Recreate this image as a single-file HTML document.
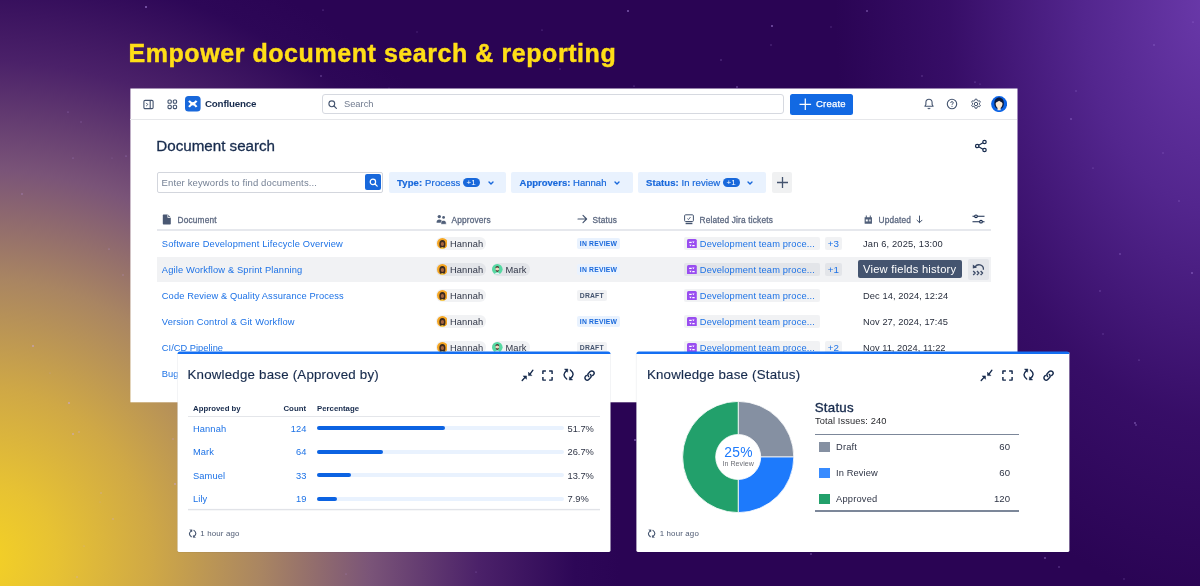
<!DOCTYPE html>
<html lang="en"><head><meta charset="utf-8"><title>Empower document search &amp; reporting</title>
<style>
html,body{margin:0;padding:0}
body{width:1200px;height:586px;overflow:hidden;position:relative;font-family:"Liberation Sans",sans-serif;
background:
 radial-gradient(ellipse 380px 600px at 1215px 0px, rgba(112,62,178,.92) 0%, rgba(100,52,166,.7) 35%, rgba(80,32,140,.34) 70%, rgba(60,20,120,0) 100%),
 radial-gradient(ellipse 640px 640px at -20px 560px, #f5d224 0%, #e7c233 12%, #cfa846 27%, #a98562 44%, #7a5478 61%, #4b2169 78%, #2d0757 93%, #2a0454 100%),
 #2a0454;}
.t{position:absolute;white-space:nowrap;height:20px;line-height:20px}
.b{position:absolute;display:block}
b{font-weight:700}
</style></head>
<body>
<svg class="b" style="left:0px;top:0px;" width="1200" height="586" viewBox="0 0 1200 586"><circle cx="389" cy="88" r="0.6" fill="#c9a7ff" opacity="0.28"/><circle cx="643" cy="214" r="0.6" fill="#c9a7ff" opacity="0.57"/><circle cx="258" cy="50" r="1" fill="#c9a7ff" opacity="0.27"/><circle cx="109" cy="249" r="0.6" fill="#c9a7ff" opacity="0.58"/><circle cx="757" cy="342" r="0.6" fill="#c9a7ff" opacity="0.45"/><circle cx="476" cy="572" r="0.6" fill="#c9a7ff" opacity="0.44"/><circle cx="160" cy="246" r="0.6" fill="#c9a7ff" opacity="0.45"/><circle cx="672" cy="400" r="0.6" fill="#c9a7ff" opacity="0.45"/><circle cx="767" cy="218" r="0.6" fill="#c9a7ff" opacity="0.45"/><circle cx="743" cy="291" r="1" fill="#c9a7ff" opacity="0.52"/><circle cx="559" cy="541" r="0.8" fill="#c9a7ff" opacity="0.35"/><circle cx="953" cy="410" r="0.7" fill="#c9a7ff" opacity="0.28"/><circle cx="360" cy="290" r="0.8" fill="#c9a7ff" opacity="0.51"/><circle cx="346" cy="574" r="0.6" fill="#c9a7ff" opacity="0.43"/><circle cx="198" cy="200" r="1" fill="#c9a7ff" opacity="0.40"/><circle cx="1154" cy="45" r="0.8" fill="#c9a7ff" opacity="0.37"/><circle cx="420" cy="291" r="1" fill="#c9a7ff" opacity="0.27"/><circle cx="112" cy="158" r="0.6" fill="#c9a7ff" opacity="0.27"/><circle cx="842" cy="379" r="1" fill="#c9a7ff" opacity="0.35"/><circle cx="463" cy="392" r="0.6" fill="#c9a7ff" opacity="0.58"/><circle cx="427" cy="358" r="1" fill="#c9a7ff" opacity="0.27"/><circle cx="922" cy="76" r="0.7" fill="#c9a7ff" opacity="0.39"/><circle cx="1100" cy="291" r="0.7" fill="#c9a7ff" opacity="0.41"/><circle cx="659" cy="518" r="1" fill="#c9a7ff" opacity="0.55"/><circle cx="334" cy="243" r="0.8" fill="#c9a7ff" opacity="0.49"/><circle cx="457" cy="135" r="0.6" fill="#c9a7ff" opacity="0.31"/><circle cx="278" cy="137" r="1" fill="#c9a7ff" opacity="0.54"/><circle cx="219" cy="165" r="0.7" fill="#c9a7ff" opacity="0.40"/><circle cx="443" cy="332" r="0.7" fill="#c9a7ff" opacity="0.49"/><circle cx="619" cy="362" r="0.6" fill="#c9a7ff" opacity="0.41"/><circle cx="1045" cy="558" r="1" fill="#c9a7ff" opacity="0.39"/><circle cx="473" cy="282" r="1" fill="#c9a7ff" opacity="0.27"/><circle cx="81" cy="122" r="0.7" fill="#c9a7ff" opacity="0.29"/><circle cx="721" cy="60" r="0.7" fill="#c9a7ff" opacity="0.44"/><circle cx="1139" cy="360" r="0.6" fill="#c9a7ff" opacity="0.56"/><circle cx="737" cy="87" r="0.8" fill="#c9a7ff" opacity="0.58"/><circle cx="723" cy="278" r="0.6" fill="#c9a7ff" opacity="0.55"/><circle cx="1192" cy="273" r="1" fill="#c9a7ff" opacity="0.36"/><circle cx="173" cy="439" r="0.8" fill="#c9a7ff" opacity="0.42"/><circle cx="830" cy="303" r="0.7" fill="#c9a7ff" opacity="0.58"/><circle cx="634" cy="86" r="0.6" fill="#c9a7ff" opacity="0.52"/><circle cx="358" cy="377" r="0.6" fill="#c9a7ff" opacity="0.49"/><circle cx="313" cy="215" r="0.7" fill="#c9a7ff" opacity="0.37"/><circle cx="267" cy="317" r="0.8" fill="#c9a7ff" opacity="0.47"/><circle cx="736" cy="462" r="0.7" fill="#c9a7ff" opacity="0.53"/><circle cx="982" cy="434" r="0.7" fill="#c9a7ff" opacity="0.32"/><circle cx="591" cy="428" r="0.6" fill="#c9a7ff" opacity="0.53"/><circle cx="567" cy="113" r="0.8" fill="#c9a7ff" opacity="0.41"/><circle cx="1124" cy="579" r="0.8" fill="#c9a7ff" opacity="0.28"/><circle cx="123" cy="275" r="0.8" fill="#c9a7ff" opacity="0.32"/><circle cx="749" cy="528" r="0.6" fill="#c9a7ff" opacity="0.42"/><circle cx="784" cy="469" r="0.6" fill="#c9a7ff" opacity="0.54"/><circle cx="144" cy="228" r="0.7" fill="#c9a7ff" opacity="0.42"/><circle cx="214" cy="462" r="0.8" fill="#c9a7ff" opacity="0.28"/><circle cx="1135" cy="423" r="1" fill="#c9a7ff" opacity="0.39"/><circle cx="1136" cy="425" r="0.7" fill="#c9a7ff" opacity="0.60"/><circle cx="33" cy="346" r="1" fill="#c9a7ff" opacity="0.53"/><circle cx="175" cy="484" r="1" fill="#c9a7ff" opacity="0.48"/><circle cx="420" cy="322" r="0.7" fill="#c9a7ff" opacity="0.26"/><circle cx="959" cy="426" r="0.6" fill="#c9a7ff" opacity="0.43"/><circle cx="1120" cy="254" r="0.7" fill="#c9a7ff" opacity="0.54"/><circle cx="253" cy="148" r="0.8" fill="#c9a7ff" opacity="0.43"/><circle cx="916" cy="191" r="1" fill="#c9a7ff" opacity="0.54"/><circle cx="73" cy="434" r="1" fill="#c9a7ff" opacity="0.48"/><circle cx="978" cy="303" r="0.7" fill="#c9a7ff" opacity="0.44"/><circle cx="628" cy="11" r="1" fill="#c9a7ff" opacity="0.52"/><circle cx="730" cy="455" r="0.7" fill="#c9a7ff" opacity="0.31"/><circle cx="568" cy="425" r="0.6" fill="#c9a7ff" opacity="0.36"/><circle cx="622" cy="325" r="0.6" fill="#c9a7ff" opacity="0.56"/><circle cx="68" cy="112" r="0.6" fill="#c9a7ff" opacity="0.52"/><circle cx="609" cy="329" r="0.6" fill="#c9a7ff" opacity="0.41"/><circle cx="735" cy="296" r="0.7" fill="#c9a7ff" opacity="0.49"/><circle cx="543" cy="313" r="1" fill="#c9a7ff" opacity="0.43"/><circle cx="297" cy="307" r="0.8" fill="#c9a7ff" opacity="0.57"/><circle cx="1071" cy="119" r="1" fill="#c9a7ff" opacity="0.30"/><circle cx="146" cy="259" r="0.6" fill="#c9a7ff" opacity="0.48"/><circle cx="514" cy="125" r="0.8" fill="#c9a7ff" opacity="0.52"/><circle cx="1076" cy="91" r="0.8" fill="#c9a7ff" opacity="0.30"/><circle cx="1059" cy="567" r="0.7" fill="#c9a7ff" opacity="0.51"/><circle cx="113" cy="519" r="0.7" fill="#c9a7ff" opacity="0.60"/><circle cx="999" cy="95" r="1" fill="#c9a7ff" opacity="0.60"/><circle cx="485" cy="247" r="0.8" fill="#c9a7ff" opacity="0.36"/><circle cx="867" cy="11" r="1" fill="#c9a7ff" opacity="0.40"/><circle cx="22" cy="194" r="0.8" fill="#c9a7ff" opacity="0.43"/><circle cx="77" cy="577" r="0.7" fill="#c9a7ff" opacity="0.59"/><circle cx="126" cy="156" r="0.6" fill="#c9a7ff" opacity="0.57"/><circle cx="218" cy="443" r="1" fill="#c9a7ff" opacity="0.55"/><circle cx="811" cy="554" r="1" fill="#c9a7ff" opacity="0.30"/><circle cx="1103" cy="334" r="0.8" fill="#c9a7ff" opacity="0.28"/><circle cx="69" cy="403" r="1" fill="#c9a7ff" opacity="0.56"/><circle cx="323" cy="10" r="0.6" fill="#c9a7ff" opacity="0.53"/><circle cx="100" cy="502" r="0.6" fill="#c9a7ff" opacity="0.34"/><circle cx="146" cy="7" r="1" fill="#c9a7ff" opacity="0.57"/><circle cx="321" cy="76" r="0.7" fill="#c9a7ff" opacity="0.58"/><circle cx="1163" cy="153" r="0.7" fill="#c9a7ff" opacity="0.32"/><circle cx="374" cy="179" r="0.7" fill="#c9a7ff" opacity="0.35"/><circle cx="600" cy="104" r="0.8" fill="#c9a7ff" opacity="0.53"/><circle cx="1193" cy="22" r="0.6" fill="#c9a7ff" opacity="0.51"/><circle cx="661" cy="111" r="1" fill="#c9a7ff" opacity="0.34"/><circle cx="536" cy="386" r="1" fill="#c9a7ff" opacity="0.48"/><circle cx="655" cy="521" r="0.8" fill="#c9a7ff" opacity="0.49"/><circle cx="1179" cy="201" r="0.7" fill="#c9a7ff" opacity="0.39"/><circle cx="417" cy="32" r="0.7" fill="#c9a7ff" opacity="0.25"/><circle cx="751" cy="516" r="1" fill="#c9a7ff" opacity="0.31"/><circle cx="101" cy="493" r="0.8" fill="#c9a7ff" opacity="0.46"/><circle cx="831" cy="27" r="0.7" fill="#c9a7ff" opacity="0.31"/><circle cx="535" cy="154" r="0.8" fill="#c9a7ff" opacity="0.59"/><circle cx="656" cy="143" r="0.8" fill="#c9a7ff" opacity="0.33"/><circle cx="220" cy="197" r="0.6" fill="#c9a7ff" opacity="0.42"/><circle cx="603" cy="118" r="0.6" fill="#c9a7ff" opacity="0.28"/><circle cx="980" cy="84" r="0.6" fill="#c9a7ff" opacity="0.39"/><circle cx="360" cy="369" r="0.6" fill="#c9a7ff" opacity="0.45"/><circle cx="635" cy="440" r="1" fill="#c9a7ff" opacity="0.52"/><circle cx="865" cy="290" r="0.8" fill="#c9a7ff" opacity="0.50"/><circle cx="772" cy="26" r="1" fill="#c9a7ff" opacity="0.51"/><circle cx="975" cy="82" r="0.6" fill="#c9a7ff" opacity="0.54"/><circle cx="701" cy="523" r="0.7" fill="#c9a7ff" opacity="0.28"/><circle cx="50" cy="373" r="0.6" fill="#c9a7ff" opacity="0.38"/><circle cx="542" cy="30" r="0.6" fill="#c9a7ff" opacity="0.47"/><circle cx="817" cy="287" r="0.6" fill="#c9a7ff" opacity="0.41"/><circle cx="84" cy="546" r="0.6" fill="#c9a7ff" opacity="0.48"/><circle cx="79" cy="432" r="0.8" fill="#c9a7ff" opacity="0.53"/><circle cx="1015" cy="138" r="0.7" fill="#c9a7ff" opacity="0.33"/><circle cx="780" cy="270" r="1" fill="#c9a7ff" opacity="0.28"/><circle cx="1093" cy="168" r="0.6" fill="#c9a7ff" opacity="0.47"/><circle cx="771" cy="45" r="0.7" fill="#c9a7ff" opacity="0.37"/><circle cx="782" cy="406" r="0.7" fill="#c9a7ff" opacity="0.25"/><circle cx="73" cy="158" r="0.6" fill="#c9a7ff" opacity="0.49"/><circle cx="811" cy="170" r="0.8" fill="#c9a7ff" opacity="0.41"/><circle cx="560" cy="69" r="0.7" fill="#c9a7ff" opacity="0.36"/></svg>
<div class="t" style="left:128.5px;top:33px;height:40px;line-height:40px;font-size:25px;font-weight:700;color:#ffde17;letter-spacing:0.56px;-webkit-text-stroke:0.45px #ffde17" id="title">Empower document search &amp; reporting</div>
<svg class="b" style="left:0px;top:0px;" width="1200" height="586" viewBox="0 0 1200 586"><rect x="130.4" y="88.5" width="887.1" height="313.8" fill="#fff"/></svg>
<div class="b" style="left:130px;top:119px;width:887px;height:1px;background:#e6e7ea;"></div>
<svg class="b" style="left:143px;top:98.5px;" width="11" height="11" viewBox="0 0 11 11"><rect x="0.9" y="1.4" width="9.2" height="8.2" rx="1.2" fill="none" stroke="#44546f" stroke-width="1.1"/><path d="M7.2 1.4v8.2" stroke="#44546f" stroke-width="1.1"/><path d="M3.2 3.9l1.6 1.6-1.6 1.6" fill="none" stroke="#44546f" stroke-width="1"/></svg>
<svg class="b" style="left:167px;top:98.5px;" width="11" height="11" viewBox="0 0 11 11"><rect x="1" y="1" width="3.3" height="3.3" rx="1" fill="none" stroke="#44546f" stroke-width="1.1"/><rect x="1" y="6.3" width="3.3" height="3.3" rx="1" fill="none" stroke="#44546f" stroke-width="1.1"/><rect x="6.3" y="1" width="3.3" height="3.3" rx="1" fill="none" stroke="#44546f" stroke-width="1.1"/><rect x="6.3" y="6.3" width="3.3" height="3.3" rx="1" fill="none" stroke="#44546f" stroke-width="1.1"/></svg>
<svg class="b" style="left:185.2px;top:96.2px;" width="15.6" height="15.6" viewBox="0 0 16 16"><rect width="16" height="16" rx="3.6" fill="#1868db"/><path d="M4.1 4.9Q8 10.2 11.9 4.9" fill="none" stroke="#fff" stroke-width="2.2"/><path d="M4.1 11.1Q8 5.8 11.9 11.1" fill="none" stroke="#fff" stroke-width="2.2"/></svg>
<div class="t" style="left:205px;top:94.4px;font-size:9.8px;color:#172b4d;font-weight:700;letter-spacing:-0.22px;">Confluence</div>
<div class="b" style="left:322px;top:94px;width:462px;height:20px;background:#fff;border:1px solid #d6d9e0;border-radius:3px;box-sizing:border-box"></div>
<svg class="b" style="left:328px;top:99.5px;" width="9" height="9" viewBox="0 0 9 9"><circle cx="3.8" cy="3.8" r="2.9" fill="none" stroke="#44546f" stroke-width="1.1"/><path d="M6 6l2.4 2.4" stroke="#44546f" stroke-width="1.1" stroke-linecap="round"/></svg>
<div class="t" style="left:344px;top:94.4px;font-size:9.3px;color:#707a8e;">Search</div>
<div class="b" style="left:790px;top:93.5px;width:63px;height:21px;background:#1269e3;border-radius:2.5px"></div>
<svg class="b" style="left:799.3px;top:97.8px;" width="12.6" height="12.6" viewBox="0 0 12.600 12.600"><path d="M6.300 0.500v11.600M0.500 6.300h11.600" stroke="#fff" stroke-width="1.250"/></svg>
<div class="t" style="left:816px;top:94.3px;font-size:9.5px;color:#fff;letter-spacing:0.2px;-webkit-text-stroke:0.25px #fff;">Create</div>
<svg class="b" style="left:922.5px;top:98px;" width="12" height="12" viewBox="0 0 12 12"><path d="M6 1.3c-1.9 0-3.1 1.4-3.1 3.1v2.1L1.9 8.3h8.2L9.1 6.5V4.4c0-1.7-1.2-3.1-3.1-3.1z" fill="none" stroke="#44546f" stroke-width="1.1" stroke-linejoin="round"/><path d="M4.9 9.8c.2.6.6.9 1.1.900s.9-.3 1.1-.9" fill="none" stroke="#44546f" stroke-width="1.1"/></svg>
<svg class="b" style="left:946px;top:98px;" width="12" height="12" viewBox="0 0 12 12"><circle cx="6" cy="6" r="4.7" fill="none" stroke="#44546f" stroke-width="1.1"/><path d="M4.7 4.9c0-.8.6-1.3 1.3-1.3s1.3.5 1.3 1.2c0 1-1.3 1-1.3 2" fill="none" stroke="#44546f" stroke-width="1"/><circle cx="6" cy="8.3" r=".6" fill="#44546f"/></svg>
<svg class="b" style="left:969.5px;top:98px;" width="12" height="12" viewBox="0 0 12 12"><circle cx="6" cy="6" r="1.7" fill="none" stroke="#44546f" stroke-width="1"/><path d="M5.1 1.2h1.8l.3 1.3 1 .6 1.3-.4.9 1.5-1 .9v1.2l1 .9-.9 1.5-1.3-.4-1 .6-.3 1.3H5.1l-.3-1.3-1-.6-1.3.4-.9-1.5 1-.9V5.1l-1-.9.9-1.5 1.3.4 1-.6z" fill="none" stroke="#44546f" stroke-width="1" stroke-linejoin="round"/></svg>
<svg class="b" style="left:991px;top:95.9px;" width="16.2" height="16.2" viewBox="0 0 16 16"><circle cx="8" cy="8" r="7.900" fill="#0b63e6"/><path d="M3.300 8C3.100 3.600 5.300 1.600 8 1.600S12.900 3.600 12.700 8C12.600 10 11.600 11.600 10.500 12.300H5.500C4.400 11.600 3.400 10 3.300 8z" fill="#0a1a3f"/><path d="M4.600 7.400C5 6 6.600 5.900 8 4.800 9.400 5.900 11 6 11.400 7.400 11.400 9.600 10.400 11 9.500 11.800V14.100H6.500V11.800C5.600 11 4.600 9.600 4.600 7.400z" fill="#fbe9d3"/></svg>
<div class="t" style="left:156.3px;top:136.4px;font-size:15.2px;color:#172b4d;letter-spacing:-0.02px;-webkit-text-stroke:0.3px #172b4d;">Document search</div>
<svg class="b" style="left:974px;top:139px;" width="14" height="14" viewBox="0 0 14 14"><circle cx="10.5" cy="3" r="1.7" fill="none" stroke="#172b4d" stroke-width="1.2"/><circle cx="3.2" cy="7" r="1.7" fill="none" stroke="#172b4d" stroke-width="1.2"/><circle cx="10.5" cy="11" r="1.7" fill="none" stroke="#172b4d" stroke-width="1.2"/><path d="M4.7 6.2l4.3-2.4M4.7 7.8l4.3 2.4" stroke="#172b4d" stroke-width="1.2"/></svg>
<div class="b" style="left:157px;top:172px;width:225.5px;height:20.5px;background:#fff;border:1px solid #d3d6dd;border-radius:2px;box-sizing:border-box"></div>
<div class="t" style="left:161.5px;top:173.0px;font-size:9.5px;color:#758195;letter-spacing:0.13px;">Enter keywords to find documents...</div>
<div class="b" style="left:365px;top:174.2px;width:15.8px;height:16px;background:#1868db;border-radius:2px"></div>
<svg class="b" style="left:368.5px;top:178px;" width="9" height="9" viewBox="0 0 9 9"><circle cx="3.9" cy="3.9" r="2.7" fill="none" stroke="#fff" stroke-width="1.2"/><path d="M6 6l2.2 2.2" stroke="#fff" stroke-width="1.2" stroke-linecap="round"/></svg>
<div class="b" style="left:389px;top:172px;width:117px;height:20.8px;background:#e9f2fe;border-radius:2px"></div>
<div class="t" style="left:397px;top:172.8px;font-size:9.5px;color:#1868db;letter-spacing:0.14px;-webkit-text-stroke:0.2px #1868db;"><b>Type:</b> Process</div>
<div class="b" style="left:463px;top:177.5px;width:17px;height:9px;background:#1868db;border-radius:5px"></div>
<div class="t" style="left:466.6px;top:172.8px;font-size:8px;color:#fff;">+1</div>
<svg class="b" style="left:487.7px;top:180.70000000000002px;" width="6" height="4.2" viewBox="0 0 6 4.2"><path d="M1 1l2 2 2-2" fill="none" stroke="#1868db" stroke-width="1.4" stroke-linecap="round" stroke-linejoin="round"/></svg>
<div class="b" style="left:511px;top:172px;width:121.5px;height:20.8px;background:#e9f2fe;border-radius:2px"></div>
<div class="t" style="left:519.5px;top:172.8px;font-size:9.5px;color:#1868db;letter-spacing:0.02px;-webkit-text-stroke:0.2px #1868db;"><b>Approvers:</b> Hannah</div>
<svg class="b" style="left:613.7px;top:180.70000000000002px;" width="6" height="4.2" viewBox="0 0 6 4.2"><path d="M1 1l2 2 2-2" fill="none" stroke="#1868db" stroke-width="1.4" stroke-linecap="round" stroke-linejoin="round"/></svg>
<div class="b" style="left:638px;top:172px;width:128px;height:20.8px;background:#e9f2fe;border-radius:2px"></div>
<div class="t" style="left:646px;top:172.8px;font-size:9.5px;color:#1868db;letter-spacing:0.08px;-webkit-text-stroke:0.2px #1868db;"><b>Status:</b> In review</div>
<div class="b" style="left:723px;top:177.5px;width:17px;height:9px;background:#1868db;border-radius:5px"></div>
<div class="t" style="left:726.6px;top:172.8px;font-size:8px;color:#fff;">+1</div>
<svg class="b" style="left:747.2px;top:180.70000000000002px;" width="6" height="4.2" viewBox="0 0 6 4.2"><path d="M1 1l2 2 2-2" fill="none" stroke="#1868db" stroke-width="1.4" stroke-linecap="round" stroke-linejoin="round"/></svg>
<div class="b" style="left:771.5px;top:172px;width:20.5px;height:20.8px;background:#f0f1f2;border-radius:2px"></div>
<svg class="b" style="left:775.5px;top:175.5px;" width="13" height="13" viewBox="0 0 13 13"><path d="M6.5 1v11M1 6.5h11" stroke="#44546f" stroke-width="1.3"/></svg>
<svg class="b" style="left:161.5px;top:213.5px;" width="10" height="11" viewBox="0 0 10 11"><path d="M1.8 0.5h4l3 3v6c0 .6-.4 1-1 1H1.8c-.6 0-1-.4-1-1v-8c0-.6.4-1 1-1z" fill="#4a5873"/><path d="M5.8.5v3h3" fill="none" stroke="#fff" stroke-width=".8"/></svg>
<div class="t" style="left:177.5px;top:210.0px;font-size:8.3px;color:#5e6a82;letter-spacing:0.17px;-webkit-text-stroke:0.3px #5e6a82;">Document</div>
<svg class="b" style="left:435.5px;top:213.5px;" width="11" height="11" viewBox="0 0 11 11"><circle cx="3.3" cy="2.6" r="1.7" fill="#505f79"/><circle cx="7.6" cy="3.4" r="1.4" fill="#505f79"/><path d="M.6 8.3c0-1.8 1-2.8 2.7-2.8S6 6.5 6 8.3v.4H.6z" fill="#505f79"/><path d="M5 10.3V9c0-1.7 1-2.6 2.6-2.6s2.6.9 2.6 2.6v1.3z" fill="#505f79" stroke="#fff" stroke-width=".5"/></svg>
<div class="t" style="left:451.5px;top:210.0px;font-size:8.3px;color:#5e6a82;letter-spacing:0.17px;-webkit-text-stroke:0.3px #5e6a82;">Approvers</div>
<svg class="b" style="left:576.5px;top:214px;" width="11" height="10" viewBox="0 0 11 10"><path d="M1 5h8.5M6 1.4L9.6 5 6 8.6" fill="none" stroke="#44546f" stroke-width="1.15" stroke-linecap="round" stroke-linejoin="round"/></svg>
<div class="t" style="left:592.5px;top:210.0px;font-size:8.3px;color:#5e6a82;letter-spacing:0.17px;-webkit-text-stroke:0.3px #5e6a82;">Status</div>
<svg class="b" style="left:684px;top:213.5px;" width="10" height="11" viewBox="0 0 10 11"><rect x=".6" y=".8" width="8.8" height="6.7" rx="1" fill="none" stroke="#44546f" stroke-width="1"/><path d="M3.4 4.6l1.1 1 2-2.6" fill="none" stroke="#44546f" stroke-width=".9"/><path d="M1.6 8.7h6.8v1.5H1.6z" fill="#44546f"/></svg>
<div class="t" style="left:699.5px;top:210.0px;font-size:8.3px;color:#5e6a82;letter-spacing:0.17px;-webkit-text-stroke:0.3px #5e6a82;">Related Jira tickets</div>
<svg class="b" style="left:864px;top:214.8px;" width="8.6" height="9.2" viewBox="0 0 10 11"><path d="M.6 2.8h8.8v7c0 .4-.3.7-.7.7H1.3c-.4 0-.7-.3-.7-.7z" fill="#505f79"/><path d="M2.6.6v3M7.4.6v3" stroke="#505f79" stroke-width="1.2"/><rect x="2" y="5.3" width="2.4" height="2.4" fill="#fff"/><rect x="5.6" y="5.3" width="2.4" height="2.4" fill="#fff" opacity=".7"/></svg>
<div class="t" style="left:878.5px;top:210.0px;font-size:8.3px;color:#5e6a82;letter-spacing:0.17px;-webkit-text-stroke:0.3px #5e6a82;">Updated</div>
<svg class="b" style="left:915.5px;top:214.5px;" width="7" height="9" viewBox="0 0 7 9"><path d="M3.5 1v6.5M1 5.2l2.5 2.5L6 5.2" fill="none" stroke="#44546f" stroke-width="1" stroke-linecap="round" stroke-linejoin="round"/></svg>
<svg class="b" style="left:971.5px;top:212.5px;" width="13" height="12" viewBox="0 0 13 12"><path d="M.5 3.3h12M.5 8.7h12" stroke="#172b4d" stroke-width="1.1"/><circle cx="4" cy="3.3" r="1.35" fill="#fff" stroke="#172b4d" stroke-width="1.1"/><circle cx="9" cy="8.7" r="1.35" fill="#fff" stroke="#172b4d" stroke-width="1.1"/></svg>
<div class="b" style="left:157px;top:229px;width:834px;height:2px;background:#e6e8ed;"></div>
<div class="t" style="left:161.8px;top:233.7px;font-size:9.3px;color:#1d72e6;letter-spacing:0.18px;">Software Development Lifecycle Overview</div>
<div class="b" style="left:436px;top:237.3px;width:49.5px;height:12.4px;background:rgba(9,30,66,.06);border-radius:6.2px"></div>
<svg class="b" style="left:436.7px;top:238.1px;" width="10.8" height="10.8" viewBox="0 0 10 10"><circle cx="5" cy="5" r="5" fill="#f5a623"/><path d="M2.2 6.5C1.8 3.5 3 1.8 5 1.8s3.2 1.7 2.8 4.7c-.1 1.4-.6 2.2-1.2 2.6H3.4c-.6-.4-1.1-1.2-1.2-2.6z" fill="#3b2a20"/><ellipse cx="5" cy="5.6" rx="1.5" ry="1.9" fill="#a8663e"/><path d="M3.3 10c.2-1 .8-1.5 1.7-1.5s1.5.5 1.7 1.5z" fill="#f5d04a"/></svg>
<div class="t" style="left:450px;top:233.7px;font-size:9.3px;color:#2e3445;letter-spacing:0.12px;">Hannah</div>
<div class="b" style="left:577px;top:238.25px;width:43.3px;height:10.5px;background:#e9f2fe;border-radius:2px"></div>
<div class="t" style="left:579.8px;top:233.6px;font-size:6.8px;color:#1868db;font-weight:700;letter-spacing:0.2px;">IN REVIEW</div>
<div class="b" style="left:684.3px;top:237.3px;width:136.2px;height:12.4px;background:rgba(9,30,66,.06);border-radius:2px"></div>
<svg class="b" style="left:687.1px;top:238.6px;" width="9.8" height="9.8" viewBox="0 0 10 10"><rect width="10" height="10" rx="1.6" fill="#994df0"/><path d="M2.2 3.4h2.6M5.4 6.7h2.4" stroke="#fff" stroke-width="1.25"/><path d="M5.3 2.5h2.4l-1.2 1.9zM2.3 5.8h2.4l-1.2 1.9z" fill="#fff"/></svg>
<div class="t" style="left:699.8px;top:233.7px;font-size:9.3px;color:#1d72e6;letter-spacing:0.14px;">Development team proce...</div>
<div class="b" style="left:825px;top:237.3px;width:16.8px;height:12.4px;background:rgba(9,30,66,.06);border-radius:2px"></div>
<div class="t" style="left:827.8px;top:233.7px;font-size:9.8px;color:#1d72e6;">+3</div>
<div class="t" style="left:863px;top:233.7px;font-size:9.3px;color:#282e3d;letter-spacing:0.16px;">Jan 6, 2025, 13:00</div>
<div class="b" style="left:157px;top:256.5px;width:834px;height:25.5px;background:#f1f2f4;"></div>
<div class="t" style="left:161.8px;top:259.7px;font-size:9.3px;color:#1d72e6;letter-spacing:0.15px;">Agile Workflow &amp; Sprint Planning</div>
<div class="b" style="left:436px;top:263.3px;width:49.5px;height:12.4px;background:rgba(9,30,66,.06);border-radius:6.2px"></div>
<svg class="b" style="left:436.7px;top:264.1px;" width="10.8" height="10.8" viewBox="0 0 10 10"><circle cx="5" cy="5" r="5" fill="#f5a623"/><path d="M2.2 6.5C1.8 3.5 3 1.8 5 1.8s3.2 1.7 2.8 4.7c-.1 1.4-.6 2.2-1.2 2.6H3.4c-.6-.4-1.1-1.2-1.2-2.6z" fill="#3b2a20"/><ellipse cx="5" cy="5.6" rx="1.5" ry="1.9" fill="#a8663e"/><path d="M3.3 10c.2-1 .8-1.5 1.7-1.5s1.5.5 1.7 1.5z" fill="#f5d04a"/></svg>
<div class="t" style="left:450px;top:259.7px;font-size:9.3px;color:#2e3445;letter-spacing:0.12px;">Hannah</div>
<div class="b" style="left:491.5px;top:263.3px;width:38.5px;height:12.4px;background:rgba(9,30,66,.06);border-radius:6.2px"></div>
<svg class="b" style="left:492.0px;top:264.2px;" width="10.6" height="10.6" viewBox="0 0 10 10"><circle cx="5" cy="5" r="5" fill="#57d9a3"/><ellipse cx="5" cy="4.8" rx="1.7" ry="2.1" fill="#f3d6c0"/><path d="M3.2 4.2C3.2 2.7 4 2 5 2s1.8.7 1.8 2.2c-.5-.6-1.1-.8-1.8-.8s-1.3.2-1.8.8z" fill="#4a3a32"/><path d="M3.4 5.5c.2 1.4.8 2 1.6 2s1.4-.6 1.6-2c-.5.5-1 .7-1.6.7s-1.1-.2-1.6-.7z" fill="#4a3a32"/><path d="M2.6 10c.2-1.2 1-1.9 2.4-1.9s2.2.7 2.4 1.9z" fill="#e9eef5"/></svg>
<div class="t" style="left:505.5px;top:259.7px;font-size:9.3px;color:#2e3445;letter-spacing:0.12px;">Mark</div>
<div class="b" style="left:577px;top:264.25px;width:43.3px;height:10.5px;background:#e9f2fe;border-radius:2px"></div>
<div class="t" style="left:579.8px;top:259.6px;font-size:6.8px;color:#1868db;font-weight:700;letter-spacing:0.2px;">IN REVIEW</div>
<div class="b" style="left:684.3px;top:263.3px;width:136.2px;height:12.4px;background:rgba(9,30,66,.06);border-radius:2px"></div>
<svg class="b" style="left:687.1px;top:264.6px;" width="9.8" height="9.8" viewBox="0 0 10 10"><rect width="10" height="10" rx="1.6" fill="#994df0"/><path d="M2.2 3.4h2.6M5.4 6.7h2.4" stroke="#fff" stroke-width="1.25"/><path d="M5.3 2.5h2.4l-1.2 1.9zM2.3 5.8h2.4l-1.2 1.9z" fill="#fff"/></svg>
<div class="t" style="left:699.8px;top:259.7px;font-size:9.3px;color:#1d72e6;letter-spacing:0.14px;">Development team proce...</div>
<div class="b" style="left:825px;top:263.3px;width:16.8px;height:12.4px;background:rgba(9,30,66,.06);border-radius:2px"></div>
<div class="t" style="left:827.8px;top:259.7px;font-size:9.8px;color:#1d72e6;">+1</div>
<div class="t" style="left:161.8px;top:285.7px;font-size:9.3px;color:#1d72e6;letter-spacing:0.107px;">Code Review &amp; Quality Assurance Process</div>
<div class="b" style="left:436px;top:289.3px;width:49.5px;height:12.4px;background:rgba(9,30,66,.06);border-radius:6.2px"></div>
<svg class="b" style="left:436.7px;top:290.1px;" width="10.8" height="10.8" viewBox="0 0 10 10"><circle cx="5" cy="5" r="5" fill="#f5a623"/><path d="M2.2 6.5C1.8 3.5 3 1.8 5 1.8s3.2 1.7 2.8 4.7c-.1 1.4-.6 2.2-1.2 2.6H3.4c-.6-.4-1.1-1.2-1.2-2.6z" fill="#3b2a20"/><ellipse cx="5" cy="5.6" rx="1.5" ry="1.9" fill="#a8663e"/><path d="M3.3 10c.2-1 .8-1.5 1.7-1.5s1.5.5 1.7 1.5z" fill="#f5d04a"/></svg>
<div class="t" style="left:450px;top:285.7px;font-size:9.3px;color:#2e3445;letter-spacing:0.12px;">Hannah</div>
<div class="b" style="left:577px;top:290.25px;width:29.5px;height:10.5px;background:rgba(9,30,66,.06);border-radius:2px"></div>
<div class="t" style="left:579.8px;top:285.6px;font-size:6.8px;color:#44546f;font-weight:700;letter-spacing:0.2px;">DRAFT</div>
<div class="b" style="left:684.3px;top:289.3px;width:136.2px;height:12.4px;background:rgba(9,30,66,.06);border-radius:2px"></div>
<svg class="b" style="left:687.1px;top:290.6px;" width="9.8" height="9.8" viewBox="0 0 10 10"><rect width="10" height="10" rx="1.6" fill="#994df0"/><path d="M2.2 3.4h2.6M5.4 6.7h2.4" stroke="#fff" stroke-width="1.25"/><path d="M5.3 2.5h2.4l-1.2 1.9zM2.3 5.8h2.4l-1.2 1.9z" fill="#fff"/></svg>
<div class="t" style="left:699.8px;top:285.7px;font-size:9.3px;color:#1d72e6;letter-spacing:0.14px;">Development team proce...</div>
<div class="t" style="left:863px;top:285.7px;font-size:9.3px;color:#282e3d;letter-spacing:0.08px;">Dec 14, 2024, 12:24</div>
<div class="t" style="left:161.8px;top:311.7px;font-size:9.3px;color:#1d72e6;letter-spacing:0.18px;">Version Control &amp; Git Workflow</div>
<div class="b" style="left:436px;top:315.3px;width:49.5px;height:12.4px;background:rgba(9,30,66,.06);border-radius:6.2px"></div>
<svg class="b" style="left:436.7px;top:316.1px;" width="10.8" height="10.8" viewBox="0 0 10 10"><circle cx="5" cy="5" r="5" fill="#f5a623"/><path d="M2.2 6.5C1.8 3.5 3 1.8 5 1.8s3.2 1.7 2.8 4.7c-.1 1.4-.6 2.2-1.2 2.6H3.4c-.6-.4-1.1-1.2-1.2-2.6z" fill="#3b2a20"/><ellipse cx="5" cy="5.6" rx="1.5" ry="1.9" fill="#a8663e"/><path d="M3.3 10c.2-1 .8-1.5 1.7-1.5s1.5.5 1.7 1.5z" fill="#f5d04a"/></svg>
<div class="t" style="left:450px;top:311.7px;font-size:9.3px;color:#2e3445;letter-spacing:0.12px;">Hannah</div>
<div class="b" style="left:577px;top:316.25px;width:43.3px;height:10.5px;background:#e9f2fe;border-radius:2px"></div>
<div class="t" style="left:579.8px;top:311.6px;font-size:6.8px;color:#1868db;font-weight:700;letter-spacing:0.2px;">IN REVIEW</div>
<div class="b" style="left:684.3px;top:315.3px;width:136.2px;height:12.4px;background:rgba(9,30,66,.06);border-radius:2px"></div>
<svg class="b" style="left:687.1px;top:316.6px;" width="9.8" height="9.8" viewBox="0 0 10 10"><rect width="10" height="10" rx="1.6" fill="#994df0"/><path d="M2.2 3.4h2.6M5.4 6.7h2.4" stroke="#fff" stroke-width="1.25"/><path d="M5.3 2.5h2.4l-1.2 1.9zM2.3 5.8h2.4l-1.2 1.9z" fill="#fff"/></svg>
<div class="t" style="left:699.8px;top:311.7px;font-size:9.3px;color:#1d72e6;letter-spacing:0.14px;">Development team proce...</div>
<div class="t" style="left:863px;top:311.7px;font-size:9.3px;color:#282e3d;letter-spacing:0.065px;">Nov 27, 2024, 17:45</div>
<div class="t" style="left:161.8px;top:337.7px;font-size:9.3px;color:#1d72e6;letter-spacing:0.02px;">CI/CD Pipeline</div>
<div class="b" style="left:436px;top:341.3px;width:49.5px;height:12.4px;background:rgba(9,30,66,.06);border-radius:6.2px"></div>
<svg class="b" style="left:436.7px;top:342.1px;" width="10.8" height="10.8" viewBox="0 0 10 10"><circle cx="5" cy="5" r="5" fill="#f5a623"/><path d="M2.2 6.5C1.8 3.5 3 1.8 5 1.8s3.2 1.7 2.8 4.7c-.1 1.4-.6 2.2-1.2 2.6H3.4c-.6-.4-1.1-1.2-1.2-2.6z" fill="#3b2a20"/><ellipse cx="5" cy="5.6" rx="1.5" ry="1.9" fill="#a8663e"/><path d="M3.3 10c.2-1 .8-1.5 1.7-1.5s1.5.5 1.7 1.5z" fill="#f5d04a"/></svg>
<div class="t" style="left:450px;top:337.7px;font-size:9.3px;color:#2e3445;letter-spacing:0.12px;">Hannah</div>
<div class="b" style="left:491.5px;top:341.3px;width:38.5px;height:12.4px;background:rgba(9,30,66,.06);border-radius:6.2px"></div>
<svg class="b" style="left:492.0px;top:342.2px;" width="10.6" height="10.6" viewBox="0 0 10 10"><circle cx="5" cy="5" r="5" fill="#57d9a3"/><ellipse cx="5" cy="4.8" rx="1.7" ry="2.1" fill="#f3d6c0"/><path d="M3.2 4.2C3.2 2.7 4 2 5 2s1.8.7 1.8 2.2c-.5-.6-1.1-.8-1.8-.8s-1.3.2-1.8.8z" fill="#4a3a32"/><path d="M3.4 5.5c.2 1.4.8 2 1.6 2s1.4-.6 1.6-2c-.5.5-1 .7-1.6.7s-1.1-.2-1.6-.7z" fill="#4a3a32"/><path d="M2.6 10c.2-1.2 1-1.9 2.4-1.9s2.2.7 2.4 1.9z" fill="#e9eef5"/></svg>
<div class="t" style="left:505.5px;top:337.7px;font-size:9.3px;color:#2e3445;letter-spacing:0.12px;">Mark</div>
<div class="b" style="left:577px;top:342.25px;width:29.5px;height:10.5px;background:rgba(9,30,66,.06);border-radius:2px"></div>
<div class="t" style="left:579.8px;top:337.6px;font-size:6.8px;color:#44546f;font-weight:700;letter-spacing:0.2px;">DRAFT</div>
<div class="b" style="left:684.3px;top:341.3px;width:136.2px;height:12.4px;background:rgba(9,30,66,.06);border-radius:2px"></div>
<svg class="b" style="left:687.1px;top:342.6px;" width="9.8" height="9.8" viewBox="0 0 10 10"><rect width="10" height="10" rx="1.6" fill="#994df0"/><path d="M2.2 3.4h2.6M5.4 6.7h2.4" stroke="#fff" stroke-width="1.25"/><path d="M5.3 2.5h2.4l-1.2 1.9zM2.3 5.8h2.4l-1.2 1.9z" fill="#fff"/></svg>
<div class="t" style="left:699.8px;top:337.7px;font-size:9.3px;color:#1d72e6;letter-spacing:0.14px;">Development team proce...</div>
<div class="b" style="left:825px;top:341.3px;width:16.8px;height:12.4px;background:rgba(9,30,66,.06);border-radius:2px"></div>
<div class="t" style="left:827.8px;top:337.7px;font-size:9.8px;color:#1d72e6;">+2</div>
<div class="t" style="left:863px;top:337.7px;font-size:9.3px;color:#282e3d;letter-spacing:0.01px;">Nov 11, 2024, 11:22</div>
<div class="t" style="left:161.8px;top:363.7px;font-size:9.3px;color:#1d72e6;letter-spacing:0.1px;">Bug Tracking</div>
<div class="b" style="left:858px;top:260px;width:104px;height:18px;background:#44546f;border-radius:2px"></div>
<div class="t" style="left:863px;top:259.2px;font-size:11.2px;color:#fff;letter-spacing:0.21px;">View fields history</div>
<div class="b" style="left:968px;top:259px;width:20.5px;height:21px;background:#e4e6ea;border-radius:2px"></div>
<svg class="b" style="left:972px;top:263px;" width="13" height="13" viewBox="0 0 13 13"><path d="M2.9 4.7A4.4 4.4 0 0 1 11.4 6.7" fill="none" stroke="#3b4a66" stroke-width="1.3"/><path d="M0.8 1.4v4l4.2-.8z" fill="#3b4a66"/><path d="M1.2 8l2 2-2 2M4.9 8l2 2-2 2M8.6 8l2 2-2 2" fill="none" stroke="#3b4a66" stroke-width="1.3" stroke-linejoin="round"/></svg>
<svg class="b" style="left:0px;top:0px;" width="1200" height="586" viewBox="0 0 1200 586"><rect x="177.0" y="352.5" width="434.0" height="200.1" rx="1.8" fill="rgba(9,30,66,.10)"/><path d="M177.5 352.5h433.0v198.100a1.400 1.400 0 0 1 -1.400 1.400h-430.2a1.400 1.400 0 0 1 -1.400-1.400z" fill="#fff"/><path d="M177.5 354.1v-.1a2.5 2.5 0 0 1 2.5-2.5h428.0a2.5 2.5 0 0 1 2.5 2.5v.1z" fill="#146ff2"/></svg>
<div class="t" style="left:187.5px;top:365.2px;font-size:13.3px;color:#172b4d;letter-spacing:0.21px;-webkit-text-stroke:0.15px #172b4d;">Knowledge base (Approved by)</div>
<svg class="b" style="left:520.5px;top:368.8px;" width="13" height="13" viewBox="0 0 13 13"><path d="M11.9 1.2L9.2 4.9M1.2 11.5L3.8 8.6" fill="none" stroke="#172b4d" stroke-width="1.4" stroke-linecap="round"/><path d="M7.5 3.2V6.6H10.9zM5.5 10.3V6.9H2.1z" fill="#172b4d" stroke="#172b4d" stroke-width=".5" stroke-linejoin="round"/></svg>
<svg class="b" style="left:541.1px;top:368.6px;" width="13" height="13" viewBox="0 0 13 13"><path d="M1.900 4.900v-3h3M8.100 1.900h3v3M11.100 8.100v3h-3M4.900 11.100h-3v-3" fill="none" stroke="#172b4d" stroke-width="1.450" stroke-linejoin="round"/></svg>
<svg class="b" style="left:562.1px;top:368.4px;" width="13" height="13" viewBox="0 0 13 13"><path d="M4.7 2.6Q-0.7 6.7 4.7 11" fill="none" stroke="#172b4d" stroke-width="1.4" stroke-linecap="round"/><path d="M8.4 2Q13.8 6.3 8.4 10.4" fill="none" stroke="#172b4d" stroke-width="1.4" stroke-linecap="round"/><path d="M2.4 1L5.9 .9 5.6 4.3z" fill="#172b4d" stroke="#172b4d" stroke-width=".4" stroke-linejoin="round"/><path d="M10.7 12L7.2 12.100 7.500 8.7z" fill="#172b4d" stroke="#172b4d" stroke-width=".4" stroke-linejoin="round"/></svg>
<svg class="b" style="left:583px;top:368.5px;" width="13" height="13" viewBox="0 0 13 13"><path d="M5.600 7.400c-.9-.9-.9-2.300 0-3.200l1.600-1.600c.9-.9 2.300-.9 3.200 0s.9 2.300 0 3.200l-.7.7" fill="none" stroke="#172b4d" stroke-width="1.450" stroke-linecap="round"/><path d="M7.400 5.600c.9.900.9 2.300 0 3.200l-1.600 1.600c-.9.900-2.300.9-3.200 0s-.9-2.300 0-3.200l.7-.7" fill="none" stroke="#172b4d" stroke-width="1.450" stroke-linecap="round"/></svg>
<svg class="b" style="left:187.9px;top:529.4px;" width="9.2" height="9.2" viewBox="0 0 13 13"><path d="M4.7 2.6Q-0.7 6.7 4.7 11" fill="none" stroke="#44546f" stroke-width="1.6" stroke-linecap="round"/><path d="M8.4 2Q13.8 6.3 8.4 10.4" fill="none" stroke="#44546f" stroke-width="1.6" stroke-linecap="round"/><path d="M2.4 1L5.9 .9 5.6 4.3z" fill="#44546f" stroke="#44546f" stroke-width=".4" stroke-linejoin="round"/><path d="M10.7 12L7.2 12.100 7.500 8.7z" fill="#44546f" stroke="#44546f" stroke-width=".4" stroke-linejoin="round"/></svg>
<div class="t" style="left:200.3px;top:524.2px;font-size:7.9px;color:#4f5b73;letter-spacing:0.15px;">1 hour ago</div>
<div class="t" style="left:193px;top:398.7px;font-size:7.8px;color:#172b4d;font-weight:700;">Approved by</div>
<div class="t" style="right:894px;top:398.7px;font-size:7.8px;color:#172b4d;font-weight:700;">Count</div>
<div class="t" style="left:317px;top:398.7px;font-size:7.8px;color:#172b4d;font-weight:700;">Percentage</div>
<div class="b" style="left:188px;top:415.6px;width:412px;height:1.2px;background:#e4e6ea;"></div>
<div class="t" style="left:193px;top:419.0px;font-size:9.3px;color:#1d72e6;letter-spacing:0.1px;">Hannah</div>
<div class="t" style="right:893.5px;top:419.0px;font-size:9.3px;color:#1d72e6;letter-spacing:0.1px;">124</div>
<div class="b" style="left:317px;top:426.40000000000003px;width:247.3px;height:3.9px;background:#e9f2fe;border-radius:2px"></div>
<div class="b" style="left:317px;top:426.40000000000003px;width:127.9px;height:3.9px;background:#0c63e2;border-radius:2px"></div>
<div class="t" style="left:567.5px;top:419.0px;font-size:9.3px;color:#2e3445;">51.7%</div>
<div class="t" style="left:193px;top:442.0px;font-size:9.3px;color:#1d72e6;letter-spacing:0.1px;">Mark</div>
<div class="t" style="right:893.5px;top:442.0px;font-size:9.3px;color:#1d72e6;letter-spacing:0.1px;">64</div>
<div class="b" style="left:317px;top:449.90000000000003px;width:247.3px;height:3.9px;background:#e9f2fe;border-radius:2px"></div>
<div class="b" style="left:317px;top:449.90000000000003px;width:66.3px;height:3.9px;background:#0c63e2;border-radius:2px"></div>
<div class="t" style="left:567.5px;top:442.0px;font-size:9.3px;color:#2e3445;">26.7%</div>
<div class="t" style="left:193px;top:466.0px;font-size:9.3px;color:#1d72e6;letter-spacing:0.1px;">Samuel</div>
<div class="t" style="right:893.5px;top:466.0px;font-size:9.3px;color:#1d72e6;letter-spacing:0.1px;">33</div>
<div class="b" style="left:317px;top:473.40000000000003px;width:247.3px;height:3.9px;background:#e9f2fe;border-radius:2px"></div>
<div class="b" style="left:317px;top:473.40000000000003px;width:34.3px;height:3.9px;background:#0c63e2;border-radius:2px"></div>
<div class="t" style="left:567.5px;top:466.0px;font-size:9.3px;color:#2e3445;">13.7%</div>
<div class="t" style="left:193px;top:489.0px;font-size:9.3px;color:#1d72e6;letter-spacing:0.1px;">Lily</div>
<div class="t" style="right:893.5px;top:489.0px;font-size:9.3px;color:#1d72e6;letter-spacing:0.1px;">19</div>
<div class="b" style="left:317px;top:496.90000000000003px;width:247.3px;height:3.9px;background:#e9f2fe;border-radius:2px"></div>
<div class="b" style="left:317px;top:496.90000000000003px;width:20.0px;height:3.9px;background:#0c63e2;border-radius:2px"></div>
<div class="t" style="left:567.5px;top:489.0px;font-size:9.3px;color:#2e3445;">7.9%</div>
<svg class="b" style="left:0px;top:0px;" width="1200" height="586" viewBox="0 0 1200 586"><rect x="188" y="508.900" width="412" height="1.400" fill="#e1e3e8"/></svg>
<svg class="b" style="left:0px;top:0px;" width="1200" height="586" viewBox="0 0 1200 586"><rect x="635.9" y="352.5" width="434.0" height="200.1" rx="1.8" fill="rgba(9,30,66,.10)"/><path d="M636.4 352.5h433.0v198.100a1.400 1.400 0 0 1 -1.400 1.400h-430.2a1.400 1.400 0 0 1 -1.400-1.400z" fill="#fff"/><path d="M636.4 354.1v-.1a2.5 2.5 0 0 1 2.5-2.5h428.0a2.5 2.5 0 0 1 2.5 2.5v.1z" fill="#146ff2"/></svg>
<div class="t" style="left:646.9px;top:365.2px;font-size:13.3px;color:#172b4d;letter-spacing:0.21px;-webkit-text-stroke:0.15px #172b4d;">Knowledge base (Status)</div>
<svg class="b" style="left:979.9px;top:368.8px;" width="13" height="13" viewBox="0 0 13 13"><path d="M11.9 1.2L9.2 4.9M1.2 11.5L3.8 8.6" fill="none" stroke="#172b4d" stroke-width="1.4" stroke-linecap="round"/><path d="M7.5 3.2V6.6H10.9zM5.5 10.3V6.9H2.1z" fill="#172b4d" stroke="#172b4d" stroke-width=".5" stroke-linejoin="round"/></svg>
<svg class="b" style="left:1000.5px;top:368.6px;" width="13" height="13" viewBox="0 0 13 13"><path d="M1.900 4.900v-3h3M8.100 1.900h3v3M11.100 8.100v3h-3M4.900 11.100h-3v-3" fill="none" stroke="#172b4d" stroke-width="1.450" stroke-linejoin="round"/></svg>
<svg class="b" style="left:1021.5px;top:368.4px;" width="13" height="13" viewBox="0 0 13 13"><path d="M4.7 2.6Q-0.7 6.7 4.7 11" fill="none" stroke="#172b4d" stroke-width="1.4" stroke-linecap="round"/><path d="M8.4 2Q13.8 6.3 8.4 10.4" fill="none" stroke="#172b4d" stroke-width="1.4" stroke-linecap="round"/><path d="M2.4 1L5.9 .9 5.6 4.3z" fill="#172b4d" stroke="#172b4d" stroke-width=".4" stroke-linejoin="round"/><path d="M10.7 12L7.2 12.100 7.500 8.7z" fill="#172b4d" stroke="#172b4d" stroke-width=".4" stroke-linejoin="round"/></svg>
<svg class="b" style="left:1042.4px;top:368.5px;" width="13" height="13" viewBox="0 0 13 13"><path d="M5.600 7.400c-.9-.9-.9-2.300 0-3.200l1.600-1.600c.9-.9 2.300-.9 3.200 0s.9 2.300 0 3.200l-.7.7" fill="none" stroke="#172b4d" stroke-width="1.450" stroke-linecap="round"/><path d="M7.400 5.600c.9.900.9 2.300 0 3.200l-1.600 1.600c-.9.900-2.300.9-3.200 0s-.9-2.300 0-3.200l.7-.7" fill="none" stroke="#172b4d" stroke-width="1.450" stroke-linecap="round"/></svg>
<svg class="b" style="left:647.3px;top:529.4px;" width="9.2" height="9.2" viewBox="0 0 13 13"><path d="M4.7 2.6Q-0.7 6.7 4.7 11" fill="none" stroke="#44546f" stroke-width="1.6" stroke-linecap="round"/><path d="M8.4 2Q13.8 6.3 8.4 10.4" fill="none" stroke="#44546f" stroke-width="1.6" stroke-linecap="round"/><path d="M2.4 1L5.9 .9 5.6 4.3z" fill="#44546f" stroke="#44546f" stroke-width=".4" stroke-linejoin="round"/><path d="M10.7 12L7.2 12.100 7.500 8.7z" fill="#44546f" stroke="#44546f" stroke-width=".4" stroke-linejoin="round"/></svg>
<div class="t" style="left:659.6999999999999px;top:524.2px;font-size:7.9px;color:#4f5b73;letter-spacing:0.15px;">1 hour ago</div>
<svg class="b" style="left:0;top:0" width="1200" height="586" viewBox="0 0 1200 586"><path d="M738.20 401.40A55.6 55.6 0 0 1 793.80 457.00L760.70 457.00A22.5 22.5 0 0 0 738.20 434.50Z" fill="#8590a2" stroke="#fff" stroke-width="0.8"/><path d="M793.80 457.00A55.6 55.6 0 0 1 738.20 512.60L738.20 479.50A22.5 22.5 0 0 0 760.70 457.00Z" fill="#1d7afc" stroke="#fff" stroke-width="0.8"/><path d="M738.20 512.60A55.6 55.6 0 0 1 738.20 401.40L738.20 434.50A22.5 22.5 0 0 0 738.20 479.50Z" fill="#22a06b" stroke="#fff" stroke-width="0.8"/></svg>
<div class="t" style="left:708.2px;width:60px;text-align:center;top:442.5px;font-size:13.8px;letter-spacing:0.35px;padding-left:0.35px;color:#1d7afc">25%</div>
<div class="t" style="left:708.2px;width:60px;text-align:center;top:453.8px;font-size:7.1px;letter-spacing:0.05px;color:#6b6e76">In Review</div>
<div class="t" style="left:814.7px;top:398.2px;font-size:13.3px;color:#172b4d;letter-spacing:0.25px;-webkit-text-stroke:0.35px #172b4d;">Status</div>
<div class="t" style="left:815px;top:411.0px;font-size:9.3px;color:#292a2e;letter-spacing:0.1px;">Total Issues: 240</div>
<div class="b" style="left:814.5px;top:433.8px;width:204.5px;height:1.4px;background:#7c8799;"></div>
<div class="b" style="left:819px;top:441.8px;width:10.5px;height:10.5px;background:#8590a2;"></div>
<div class="t" style="left:836px;top:437.2px;font-size:9.3px;color:#2e3445;letter-spacing:0.2px;">Draft</div>
<div class="t" style="right:189.79999999999995px;top:437.2px;font-size:9.6px;color:#2e3445;letter-spacing:0.1px;">60</div>
<div class="b" style="left:819px;top:467.8px;width:10.5px;height:10.5px;background:#388bff;"></div>
<div class="t" style="left:836px;top:463.2px;font-size:9.3px;color:#2e3445;letter-spacing:0.1px;">In Review</div>
<div class="t" style="right:189.79999999999995px;top:463.2px;font-size:9.6px;color:#2e3445;letter-spacing:0.1px;">60</div>
<div class="b" style="left:819px;top:493.8px;width:10.5px;height:10.5px;background:#22a06b;"></div>
<div class="t" style="left:836px;top:489.2px;font-size:9.3px;color:#2e3445;letter-spacing:0.2px;">Approved</div>
<div class="t" style="right:189.79999999999995px;top:489.2px;font-size:9.6px;color:#2e3445;letter-spacing:0.1px;">120</div>
<div class="b" style="left:814.5px;top:510.3px;width:204.5px;height:1.4px;background:#7c8799;"></div>
</body></html>
